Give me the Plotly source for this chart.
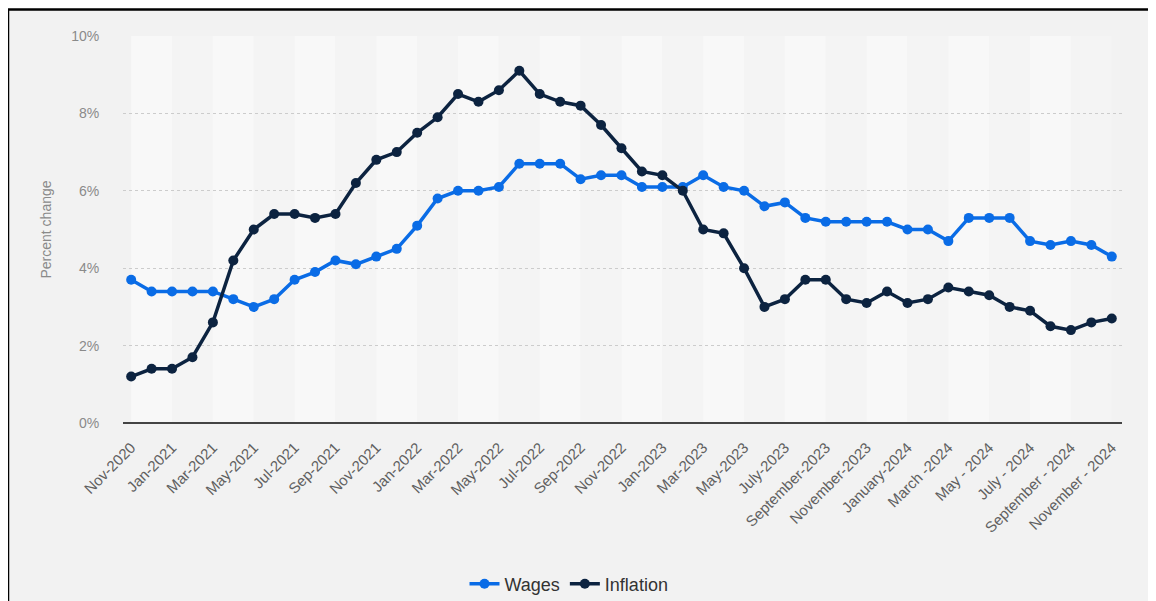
import plotly.graph_objects as go

months = [
    "Nov-2020", "Dec-2020", "Jan-2021", "Feb-2021", "Mar-2021", "Apr-2021", "May-2021", "Jun-2021",
    "Jul-2021", "Aug-2021", "Sep-2021", "Oct-2021", "Nov-2021", "Dec-2021", "Jan-2022", "Feb-2022",
    "Mar-2022", "Apr-2022", "May-2022", "Jun-2022", "Jul-2022", "Aug-2022", "Sep-2022", "Oct-2022",
    "Nov-2022", "Dec-2022", "Jan-2023", "Feb-2023", "Mar-2023", "Apr-2023", "May-2023", "Jun-2023",
    "July-2023", "August-2023", "September-2023", "October-2023", "November-2023", "December-2023",
    "January-2024", "February-2024", "March -2024", "April -2024", "May - 2024", "June - 2024",
    "July - 2024", "August - 2024", "September - 2024", "October - 2024", "November - 2024",
]

wages = [3.7, 3.4, 3.4, 3.4, 3.4, 3.2, 3.0, 3.2, 3.7, 3.9, 4.2, 4.1, 4.3, 4.5, 5.1, 5.8,
         6.0, 6.0, 6.1, 6.7, 6.7, 6.7, 6.3, 6.4, 6.4, 6.1, 6.1, 6.1, 6.4, 6.1, 6.0, 5.6,
         5.7, 5.3, 5.2, 5.2, 5.2, 5.2, 5.0, 5.0, 4.7, 5.3, 5.3, 5.3, 4.7, 4.6, 4.7, 4.6, 4.3]

inflation = [1.2, 1.4, 1.4, 1.7, 2.6, 4.2, 5.0, 5.4, 5.4, 5.3, 5.4, 6.2, 6.8, 7.0, 7.5, 7.9,
             8.5, 8.3, 8.6, 9.1, 8.5, 8.3, 8.2, 7.7, 7.1, 6.5, 6.4, 6.0, 5.0, 4.9, 4.0, 3.0,
             3.2, 3.7, 3.7, 3.2, 3.1, 3.4, 3.1, 3.2, 3.5, 3.4, 3.3, 3.0, 2.9, 2.5, 2.4, 2.6, 2.7]

y_ticks = [0, 2, 4, 6, 8, 10]
y_tick_text = ["0%", "2%", "4%", "6%", "8%", "10%"]

WAGES_COLOR = "#0a6ce6"
INFL_COLOR = "#0c2340"

# figure geometry (page has an 8px body margin)
W, H = 1148, 593
ML, MR, MT, MB = 115, 34, 28, 178
PW = W - ML - MR
PH = H - MT - MB


def px_x(fx):
    return (fx - ML) / PW


def px_y(fy):
    return (H - MB - fy) / PH


fig = go.Figure()
fig.add_trace(go.Scatter(
    x=months, y=wages, name="Wages", mode="lines+markers",
    line=dict(color=WAGES_COLOR, width=3.5), marker=dict(color=WAGES_COLOR, size=10),
))
fig.add_trace(go.Scatter(
    x=months, y=inflation, name="Inflation", mode="lines+markers",
    line=dict(color=INFL_COLOR, width=3.5), marker=dict(color=INFL_COLOR, size=10),
))

shapes = []
# outer frame
shapes.append(dict(type="rect", xref="paper", yref="paper",
                   x0=px_x(0.0), x1=px_x(W + 20),
                   y0=px_y(H + 20), y1=px_y(1.5),
                   fillcolor="#f2f2f2", line=dict(color="#000000", width=2.5), layer="below"))
# alternating bands
for i in range(0, len(months) - 1, 2):
    col = "#f8f8f8" if (i // 2) % 2 == 0 else "#f4f4f4"
    shapes.append(dict(type="rect", xref="x", yref="paper", x0=i, x1=i + 2, y0=0, y1=1,
                       fillcolor=col, line=dict(width=0), layer="below"))

fig.update_layout(
    width=W, height=H,
    margin=dict(l=ML, r=MR, t=MT, b=MB, autoexpand=False),
    paper_bgcolor="#ffffff",
    plot_bgcolor="rgba(0,0,0,0)",
    font=dict(family="Liberation Sans, Arial, sans-serif", color="#555555"),
    shapes=shapes,
    showlegend=True,
    legend=dict(orientation="h", x=px_x(561), xanchor="center",
                yref="container", y=1 - 576 / H, yanchor="middle",
                font=dict(size=18, color="#333333"), bgcolor="rgba(0,0,0,0)",
                itemwidth=30),
    xaxis=dict(
        type="category", range=[-0.4, 48.5],
        tickmode="array", tickvals=months[::2], ticktext=months[::2],
        tickangle=-45, tickfont=dict(size=15, color="#606060"),
        showgrid=False, showline=False, zeroline=False,
        ticks="outside", ticklen=9, tickcolor="rgba(0,0,0,0)", automargin=False,
    ),
    yaxis=dict(
        range=[0, 10], tickvals=y_ticks, ticktext=y_tick_text,
        tickfont=dict(size=14, color="#8a8a8a"),
        showgrid=True, gridcolor="#cccccc", griddash="dot", gridwidth=1,
        zeroline=True, zerolinecolor="#444444", zerolinewidth=2,
        ticks="outside", ticklen=20, tickcolor="rgba(0,0,0,0)", automargin=False,
        title=dict(text="Percent change", font=dict(size=14, color="#8a8a8a"), standoff=16),
    ),
)

fig.write_html("out.html")
